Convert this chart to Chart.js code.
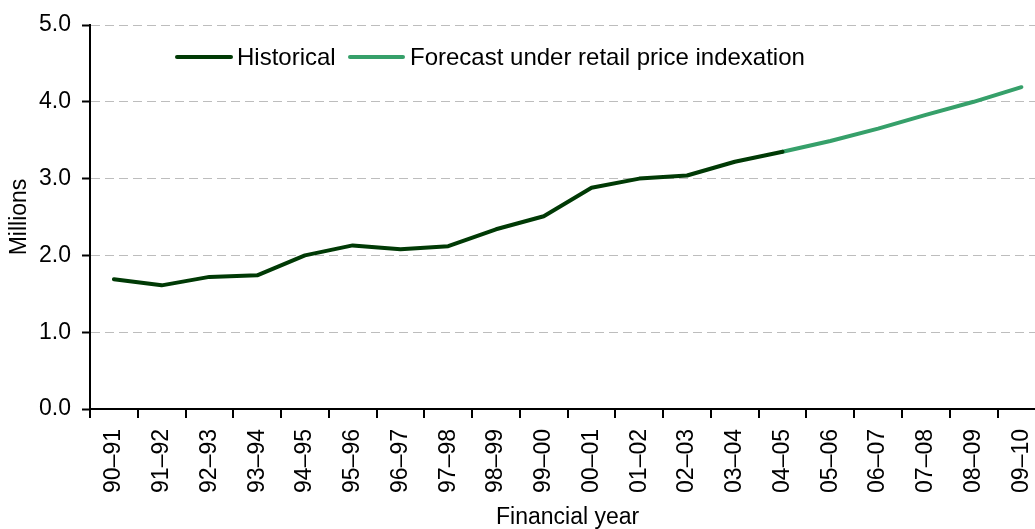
<!DOCTYPE html>
<html>
<head>
<meta charset="utf-8">
<script src="https://cdn.jsdelivr.net/npm/chart.js@4/dist/chart.umd.min.js"></script>
<style>
  html, body { margin: 0; padding: 0; background: #fff; overflow: hidden; width: 1035px; height: 529px; }
  #wrap { position: absolute; left: 0; top: 0; width: 1060px; height: 529px; }
  .legend { position: absolute; top: 43px; left: 175px; font: 24px "Liberation Sans", Arial, sans-serif; color: #000; white-space: nowrap; }
  .legend span { position: absolute; top: 0; line-height: 28px; }
  .legend i { position: absolute; top: 12px; height: 4px; border-radius: 2px; }
</style>
</head>
<body>
<div id="wrap">
  <canvas id="chart" width="1060" height="529"></canvas>
  <div class="legend">
    <i style="left:0;width:58px;background:#003a05"></i><span style="left:62px">Historical</span>
    <i style="left:173px;width:57px;background:#36a06a"></i><span style="left:235px">Forecast under retail price indexation</span>
  </div>
</div>
<script>
'use strict';
/* Pensioner numbers — historical vs forecast, straight-line chart */

var years = ['90–91','91–92','92–93','93–94','94–95','95–96','96–97','97–98','98–99','99–00',
             '00–01','01–02','02–03','03–04','04–05','05–06','06–07','07–08','08–09','09–10'];
var historical = [1.69, 1.61, 1.72, 1.74, 2.00, 2.13, 2.08, 2.12, 2.34, 2.51,
                  2.88, 3.00, 3.04, 3.22, 3.35, null, null, null, null, null];
var forecast   = [null, null, null, null, null, null, null, null, null, null,
                  null, null, null, null, 3.35, 3.49, 3.65, 3.83, 4.00, 4.19];
var yTicks = [0, 1, 2, 3, 4, 5];

var FONT = '"Liberation Sans", Arial, sans-serif';

new Chart(document.getElementById('chart'), {
  type: 'line',
  data: {
    labels: years,
    datasets: [
      { label: 'Historical', data: historical, borderColor: '#003a05', borderWidth: 4,
        pointRadius: 0, tension: 0, borderCapStyle: 'round', borderJoinStyle: 'round', spanGaps: false },
      { label: 'Forecast under retail price indexation', data: forecast, borderColor: '#36a06a', borderWidth: 4,
        pointRadius: 0, tension: 0, borderCapStyle: 'round', borderJoinStyle: 'round', spanGaps: false }
    ]
  },
  options: {
    responsive: false,
    animation: false,
    layout: { padding: { top: 25, left: 0, right: 0, bottom: 0 } },
    plugins: { legend: { display: false }, tooltip: { enabled: false } },
    scales: {
      x: {
        offset: true,
        grid: { offset: true, drawOnChartArea: false, color: '#000', tickLength: 9, lineWidth: 2 },
        border: { color: '#000', width: 2 },
        ticks: { color: '#000', font: { family: FONT, size: 23 }, minRotation: 90, maxRotation: 90, autoSkip: false, padding: 11 },
        title: { display: true, text: 'Financial year', color: '#000', font: { family: FONT, size: 23, lineHeight: 1 }, padding: { top: -2, bottom: 0 } },
        afterFit: function (s) { s.height = 120; }
      },
      y: {
        min: 0, max: 5,
        afterBuildTicks: function (s) { s.ticks = yTicks.map(function (v) { return { value: v }; }); },
        grid: { color: '#bdbdbd', lineWidth: 1, tickColor: '#000', tickLength: 8, tickBorderDash: [], tickWidth: 2 },
        border: { color: '#000', width: 2, dash: [9, 5] },
        ticks: { color: '#000', font: { family: FONT, size: 23 }, padding: 11,
                 callback: function (v) { return Number(v).toFixed(1); } },
        title: { display: true, text: 'Millions', color: '#000', font: { family: FONT, size: 23, lineHeight: 1 }, padding: { top: 8, bottom: 0 } },
        afterFit: function (s) { s.width = 90; }
      }
    }
  }
});
</script>
</body>
</html>
